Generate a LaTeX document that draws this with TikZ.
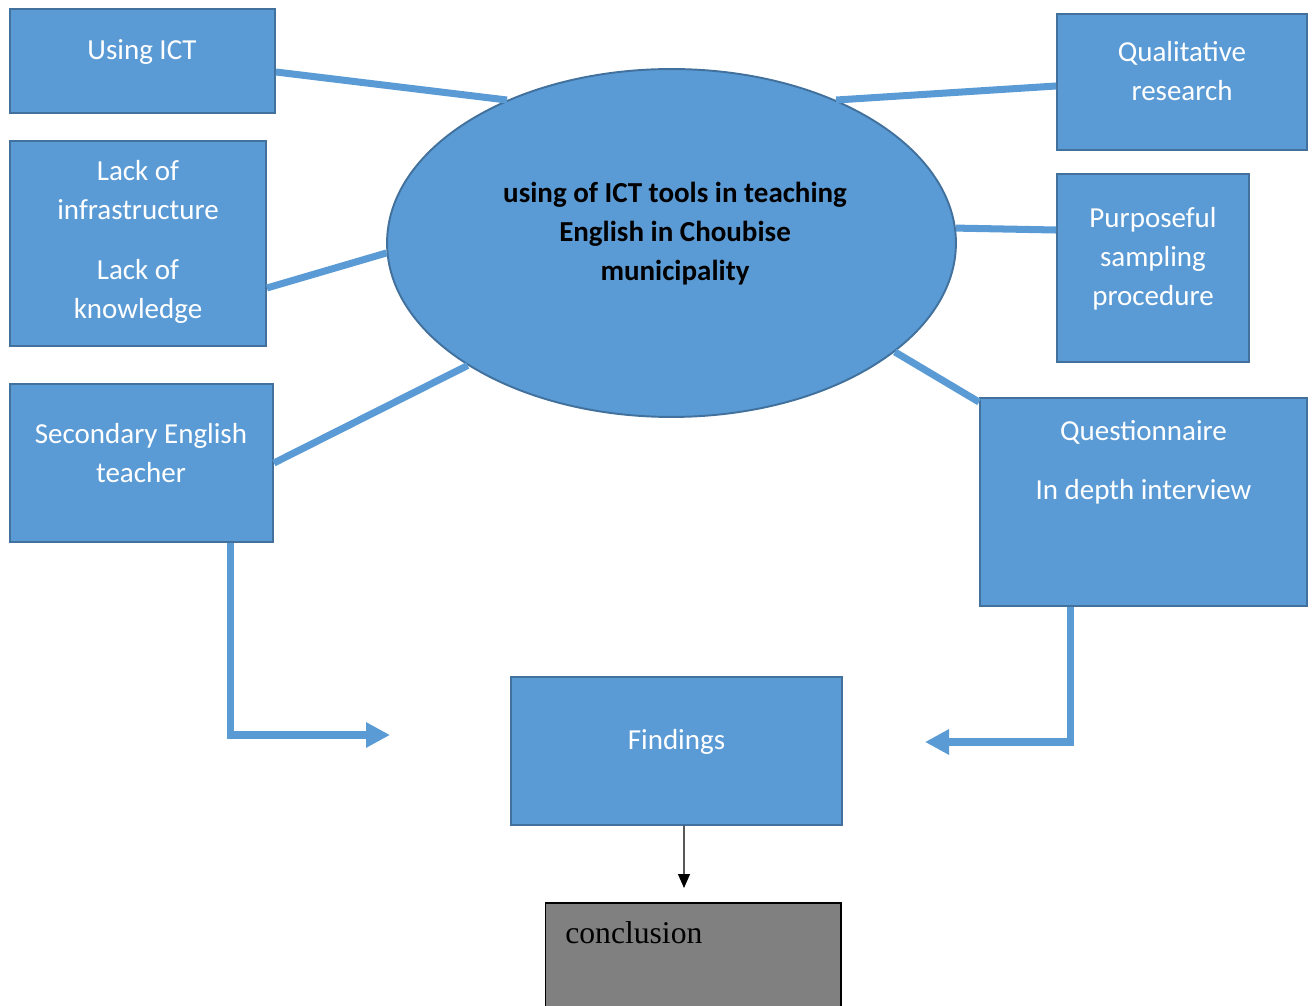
\documentclass[tikz,border=0pt]{standalone}
\usepackage{fontspec}
\setmainfont{Carlito}
\newfontfamily\timesfont{Liberation Serif}
\usetikzlibrary{shapes.geometric,arrows.meta}
\definecolor{boxblue}{HTML}{5B9BD5}
\definecolor{boxline}{HTML}{41719C}
\definecolor{concgray}{HTML}{808080}
\tikzset{
  box/.style={rectangle, draw=boxline, fill=boxblue, line width=1.1pt, inner sep=0pt},
  boxtext/.style={text=white, align=center, font=\fontsize{16.5}{22.2}\selectfont},
  link/.style={draw=boxblue, line width=4pt},
  bigarrow/.style={draw=boxblue, line width=4pt, -{Triangle[length=0.48cm,width=0.48cm]}},
}
\begin{document}
\begin{tikzpicture}[x=0.02cm,y=-0.02cm]
\clip (0,0) rectangle (1316,1006);

% centre topic
\node[ellipse, draw=boxline, fill=boxblue, line width=1.1pt, inner sep=0pt,
      minimum width=11.38cm, minimum height=6.96cm] (topic) at (671.5,243) {};
\node[align=center, font=\bfseries\fontsize{16.5}{22.2}\selectfont] (topic-t) at (675,234)
  {using of ICT tools in teaching\\English in Choubise\\municipality};

% left boxes
\node[box, minimum width=5.30cm, minimum height=2.08cm] (ict) at (142.5,61) {};
\node[boxtext] (ict-t) at (142,52) {Using ICT};

\node[box, minimum width=5.12cm, minimum height=4.10cm] (lack) at (138,243.5) {};
\node[boxtext] (lack-t) at (138,242) {Lack of\\infrastructure\\[0.42cm]Lack of\\knowledge};

\node[box, minimum width=5.26cm, minimum height=3.16cm] (sec) at (141.5,463) {};
\node[boxtext] (sec-t) at (141,453) {Secondary English\\teacher};

% right boxes
\node[box, minimum width=5.00cm, minimum height=2.72cm] (qual) at (1182,82) {};
\node[boxtext] (qual-t) at (1182,71.5) {Qualitative\\research};

\node[box, minimum width=3.84cm, minimum height=3.76cm] (purp) at (1153,268) {};
\node[boxtext] (purp-t) at (1153,259) {Purposeful\\sampling\\procedure};

\node[box, minimum width=6.54cm, minimum height=4.16cm] (quest) at (1143.5,502) {};
\node[boxtext] (quest-t) at (1143.5,462.5) {Questionnaire\\[0.4cm]In depth interview};

% findings and conclusion
\node[box, minimum width=6.62cm, minimum height=2.96cm] (find) at (676.5,751) {};
\node[boxtext] (find-t) at (676.5,742) {Findings};

\node[rectangle, draw=black, fill=concgray, line width=0.6pt,
      minimum width=5.92cm, minimum height=2.74cm] (concl) at (693,971.5) {};
\node[anchor=west, inner sep=0pt, font=\timesfont\fontsize{18}{22}\selectfont] (concl-t) at (565,933) {conclusion};

% links to the topic
\draw[link] ([yshift=-0.22cm]ict.east) -- (topic.139.7);
\draw[link] ([yshift=-0.89cm]lack.east) -- (topic.182.8);
\draw[link] (sec.east) -- (topic.211.2);
\draw[link] ([yshift=-0.08cm]qual.west) -- (topic.41.7);
\draw[link] ([yshift=0.76cm]purp.west) -- (topic.3.4);
\draw[link] ([yshift=-0.1cm]quest.north west) -- (topic.334.4);

% arrows to findings
\coordinate (ltip) at (390,735);
\coordinate (rtip) at (925,742);
\coordinate (ctip) at (684,888);
\draw[bigarrow] ([xshift=1.79cm]sec.south) |- (ltip);
\draw[bigarrow] ([xshift=-1.47cm]quest.south) |- (rtip);
\draw[line width=0.6pt, -{Triangle[length=0.28cm,width=0.24cm]}] ([xshift=0.15cm]find.south) -- (ctip);
\end{tikzpicture}
\end{document}
